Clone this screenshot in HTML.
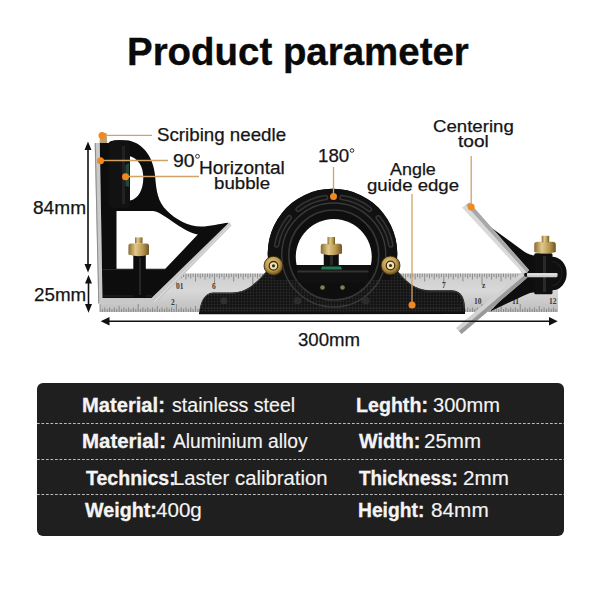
<!DOCTYPE html>
<html><head><meta charset="utf-8">
<style>
html,body{margin:0;padding:0;background:#fff;}
body{width:600px;height:600px;position:relative;overflow:hidden;font-family:"Liberation Sans",sans-serif;}
.t{position:absolute;white-space:pre;line-height:1;transform-origin:0 0;}
.box{position:absolute;left:36.5px;top:383px;width:527px;height:153px;background:#1f1f1f;border-radius:6px;overflow:hidden;}
.dash{position:absolute;left:0;width:527px;height:1px;background-image:linear-gradient(to right,#bdbdbd 0,#bdbdbd 3px,transparent 3px,transparent 4.5px);background-size:4.5px 1px;}
svg{position:absolute;left:0;top:0;}
</style></head><body>
<svg width="600" height="600" viewBox="0 0 600 600">
<defs>
<linearGradient id="rul" x1="0" y1="0" x2="0" y2="1">
<stop offset="0" stop-color="#cdcdcd"/><stop offset="0.45" stop-color="#d8d8d8"/><stop offset="1" stop-color="#bdbdbd"/>
</linearGradient>
<linearGradient id="brass" x1="0" y1="0" x2="1" y2="0">
<stop offset="0" stop-color="#8a6d32"/><stop offset="0.35" stop-color="#e0c98a"/><stop offset="0.7" stop-color="#b8974f"/><stop offset="1" stop-color="#6e5526"/>
</linearGradient>
<radialGradient id="bolt" cx="0.45" cy="0.4" r="0.6">
<stop offset="0" stop-color="#f1dc9c"/><stop offset="0.6" stop-color="#c09a48"/><stop offset="1" stop-color="#5e4718"/>
</radialGradient>
<linearGradient id="blade" x1="0" y1="0" x2="1" y2="0">
<stop offset="0" stop-color="#e8e8e8"/><stop offset="0.5" stop-color="#c8c8c8"/><stop offset="1" stop-color="#8f8f8f"/>
</linearGradient>
<pattern id="knurl" width="3" height="3" patternUnits="userSpaceOnUse">
<rect width="3" height="3" fill="#121212"/><circle cx="1.5" cy="1.5" r="0.9" fill="#2c2c2c"/>
</pattern>
</defs>

<!-- ruler -->
<rect x="100" y="273.5" width="458" height="38.5" fill="url(#rul)"/>
<g id="ticks" stroke="#777" stroke-width="0.75">
<line x1="100.00" y1="273.5" x2="100.00" y2="284.50"/>
<line x1="100.00" y1="312" x2="100.00" y2="304.00"/>
<line x1="102.39" y1="273.5" x2="102.39" y2="277.00"/>
<line x1="102.39" y1="312" x2="102.39" y2="309.00"/>
<line x1="104.78" y1="273.5" x2="104.78" y2="278.50"/>
<line x1="104.78" y1="312" x2="104.78" y2="307.50"/>
<line x1="107.16" y1="273.5" x2="107.16" y2="277.00"/>
<line x1="107.16" y1="312" x2="107.16" y2="309.00"/>
<line x1="109.55" y1="273.5" x2="109.55" y2="279.50"/>
<line x1="109.55" y1="312" x2="109.55" y2="307.50"/>
<line x1="111.94" y1="273.5" x2="111.94" y2="277.00"/>
<line x1="111.94" y1="312" x2="111.94" y2="309.00"/>
<line x1="114.33" y1="273.5" x2="114.33" y2="278.50"/>
<line x1="114.33" y1="312" x2="114.33" y2="307.50"/>
<line x1="116.71" y1="273.5" x2="116.71" y2="277.00"/>
<line x1="116.71" y1="312" x2="116.71" y2="309.00"/>
<line x1="119.10" y1="273.5" x2="119.10" y2="281.50"/>
<line x1="119.10" y1="312" x2="119.10" y2="306.00"/>
<line x1="121.49" y1="273.5" x2="121.49" y2="277.00"/>
<line x1="121.49" y1="312" x2="121.49" y2="309.00"/>
<line x1="123.88" y1="273.5" x2="123.88" y2="278.50"/>
<line x1="123.88" y1="312" x2="123.88" y2="307.50"/>
<line x1="126.26" y1="273.5" x2="126.26" y2="277.00"/>
<line x1="126.26" y1="312" x2="126.26" y2="309.00"/>
<line x1="128.65" y1="273.5" x2="128.65" y2="279.50"/>
<line x1="128.65" y1="312" x2="128.65" y2="307.50"/>
<line x1="131.04" y1="273.5" x2="131.04" y2="277.00"/>
<line x1="131.04" y1="312" x2="131.04" y2="309.00"/>
<line x1="133.43" y1="273.5" x2="133.43" y2="278.50"/>
<line x1="133.43" y1="312" x2="133.43" y2="307.50"/>
<line x1="135.81" y1="273.5" x2="135.81" y2="277.00"/>
<line x1="135.81" y1="312" x2="135.81" y2="309.00"/>
<line x1="138.20" y1="273.5" x2="138.20" y2="284.50"/>
<line x1="138.20" y1="312" x2="138.20" y2="304.00"/>
<line x1="140.59" y1="273.5" x2="140.59" y2="277.00"/>
<line x1="140.59" y1="312" x2="140.59" y2="309.00"/>
<line x1="142.97" y1="273.5" x2="142.97" y2="278.50"/>
<line x1="142.97" y1="312" x2="142.97" y2="307.50"/>
<line x1="145.36" y1="273.5" x2="145.36" y2="277.00"/>
<line x1="145.36" y1="312" x2="145.36" y2="309.00"/>
<line x1="147.75" y1="273.5" x2="147.75" y2="279.50"/>
<line x1="147.75" y1="312" x2="147.75" y2="307.50"/>
<line x1="150.14" y1="273.5" x2="150.14" y2="277.00"/>
<line x1="150.14" y1="312" x2="150.14" y2="309.00"/>
<line x1="152.53" y1="273.5" x2="152.53" y2="278.50"/>
<line x1="152.53" y1="312" x2="152.53" y2="307.50"/>
<line x1="154.91" y1="273.5" x2="154.91" y2="277.00"/>
<line x1="154.91" y1="312" x2="154.91" y2="309.00"/>
<line x1="157.30" y1="273.5" x2="157.30" y2="281.50"/>
<line x1="157.30" y1="312" x2="157.30" y2="306.00"/>
<line x1="159.69" y1="273.5" x2="159.69" y2="277.00"/>
<line x1="159.69" y1="312" x2="159.69" y2="309.00"/>
<line x1="162.07" y1="273.5" x2="162.07" y2="278.50"/>
<line x1="162.07" y1="312" x2="162.07" y2="307.50"/>
<line x1="164.46" y1="273.5" x2="164.46" y2="277.00"/>
<line x1="164.46" y1="312" x2="164.46" y2="309.00"/>
<line x1="166.85" y1="273.5" x2="166.85" y2="279.50"/>
<line x1="166.85" y1="312" x2="166.85" y2="307.50"/>
<line x1="169.24" y1="273.5" x2="169.24" y2="277.00"/>
<line x1="169.24" y1="312" x2="169.24" y2="309.00"/>
<line x1="171.62" y1="273.5" x2="171.62" y2="278.50"/>
<line x1="171.62" y1="312" x2="171.62" y2="307.50"/>
<line x1="174.01" y1="273.5" x2="174.01" y2="277.00"/>
<line x1="174.01" y1="312" x2="174.01" y2="309.00"/>
<line x1="176.40" y1="273.5" x2="176.40" y2="284.50"/>
<line x1="176.40" y1="312" x2="176.40" y2="304.00"/>
<line x1="178.79" y1="273.5" x2="178.79" y2="277.00"/>
<line x1="178.79" y1="312" x2="178.79" y2="309.00"/>
<line x1="181.18" y1="273.5" x2="181.18" y2="278.50"/>
<line x1="181.18" y1="312" x2="181.18" y2="307.50"/>
<line x1="183.56" y1="273.5" x2="183.56" y2="277.00"/>
<line x1="183.56" y1="312" x2="183.56" y2="309.00"/>
<line x1="185.95" y1="273.5" x2="185.95" y2="279.50"/>
<line x1="185.95" y1="312" x2="185.95" y2="307.50"/>
<line x1="188.34" y1="273.5" x2="188.34" y2="277.00"/>
<line x1="188.34" y1="312" x2="188.34" y2="309.00"/>
<line x1="190.73" y1="273.5" x2="190.73" y2="278.50"/>
<line x1="190.73" y1="312" x2="190.73" y2="307.50"/>
<line x1="193.11" y1="273.5" x2="193.11" y2="277.00"/>
<line x1="193.11" y1="312" x2="193.11" y2="309.00"/>
<line x1="195.50" y1="273.5" x2="195.50" y2="281.50"/>
<line x1="195.50" y1="312" x2="195.50" y2="306.00"/>
<line x1="197.89" y1="273.5" x2="197.89" y2="277.00"/>
<line x1="197.89" y1="312" x2="197.89" y2="309.00"/>
<line x1="200.28" y1="273.5" x2="200.28" y2="278.50"/>
<line x1="200.28" y1="312" x2="200.28" y2="307.50"/>
<line x1="202.66" y1="273.5" x2="202.66" y2="277.00"/>
<line x1="202.66" y1="312" x2="202.66" y2="309.00"/>
<line x1="205.05" y1="273.5" x2="205.05" y2="279.50"/>
<line x1="205.05" y1="312" x2="205.05" y2="307.50"/>
<line x1="207.44" y1="273.5" x2="207.44" y2="277.00"/>
<line x1="207.44" y1="312" x2="207.44" y2="309.00"/>
<line x1="209.82" y1="273.5" x2="209.82" y2="278.50"/>
<line x1="209.82" y1="312" x2="209.82" y2="307.50"/>
<line x1="212.21" y1="273.5" x2="212.21" y2="277.00"/>
<line x1="212.21" y1="312" x2="212.21" y2="309.00"/>
<line x1="214.60" y1="273.5" x2="214.60" y2="284.50"/>
<line x1="214.60" y1="312" x2="214.60" y2="304.00"/>
<line x1="216.99" y1="273.5" x2="216.99" y2="277.00"/>
<line x1="216.99" y1="312" x2="216.99" y2="309.00"/>
<line x1="219.38" y1="273.5" x2="219.38" y2="278.50"/>
<line x1="219.38" y1="312" x2="219.38" y2="307.50"/>
<line x1="221.76" y1="273.5" x2="221.76" y2="277.00"/>
<line x1="221.76" y1="312" x2="221.76" y2="309.00"/>
<line x1="224.15" y1="273.5" x2="224.15" y2="279.50"/>
<line x1="224.15" y1="312" x2="224.15" y2="307.50"/>
<line x1="226.54" y1="273.5" x2="226.54" y2="277.00"/>
<line x1="226.54" y1="312" x2="226.54" y2="309.00"/>
<line x1="228.93" y1="273.5" x2="228.93" y2="278.50"/>
<line x1="228.93" y1="312" x2="228.93" y2="307.50"/>
<line x1="231.31" y1="273.5" x2="231.31" y2="277.00"/>
<line x1="231.31" y1="312" x2="231.31" y2="309.00"/>
<line x1="233.70" y1="273.5" x2="233.70" y2="281.50"/>
<line x1="233.70" y1="312" x2="233.70" y2="306.00"/>
<line x1="236.09" y1="273.5" x2="236.09" y2="277.00"/>
<line x1="236.09" y1="312" x2="236.09" y2="309.00"/>
<line x1="238.48" y1="273.5" x2="238.48" y2="278.50"/>
<line x1="238.48" y1="312" x2="238.48" y2="307.50"/>
<line x1="240.86" y1="273.5" x2="240.86" y2="277.00"/>
<line x1="240.86" y1="312" x2="240.86" y2="309.00"/>
<line x1="243.25" y1="273.5" x2="243.25" y2="279.50"/>
<line x1="243.25" y1="312" x2="243.25" y2="307.50"/>
<line x1="245.64" y1="273.5" x2="245.64" y2="277.00"/>
<line x1="245.64" y1="312" x2="245.64" y2="309.00"/>
<line x1="248.03" y1="273.5" x2="248.03" y2="278.50"/>
<line x1="248.03" y1="312" x2="248.03" y2="307.50"/>
<line x1="250.41" y1="273.5" x2="250.41" y2="277.00"/>
<line x1="250.41" y1="312" x2="250.41" y2="309.00"/>
<line x1="252.80" y1="273.5" x2="252.80" y2="284.50"/>
<line x1="252.80" y1="312" x2="252.80" y2="304.00"/>
<line x1="255.19" y1="273.5" x2="255.19" y2="277.00"/>
<line x1="255.19" y1="312" x2="255.19" y2="309.00"/>
<line x1="257.58" y1="273.5" x2="257.58" y2="278.50"/>
<line x1="257.58" y1="312" x2="257.58" y2="307.50"/>
<line x1="259.96" y1="273.5" x2="259.96" y2="277.00"/>
<line x1="259.96" y1="312" x2="259.96" y2="309.00"/>
<line x1="262.35" y1="273.5" x2="262.35" y2="279.50"/>
<line x1="262.35" y1="312" x2="262.35" y2="307.50"/>
<line x1="264.74" y1="273.5" x2="264.74" y2="277.00"/>
<line x1="264.74" y1="312" x2="264.74" y2="309.00"/>
<line x1="267.12" y1="273.5" x2="267.12" y2="278.50"/>
<line x1="267.12" y1="312" x2="267.12" y2="307.50"/>
<line x1="269.51" y1="273.5" x2="269.51" y2="277.00"/>
<line x1="269.51" y1="312" x2="269.51" y2="309.00"/>
<line x1="271.90" y1="273.5" x2="271.90" y2="281.50"/>
<line x1="271.90" y1="312" x2="271.90" y2="306.00"/>
<line x1="274.29" y1="273.5" x2="274.29" y2="277.00"/>
<line x1="274.29" y1="312" x2="274.29" y2="309.00"/>
<line x1="276.68" y1="273.5" x2="276.68" y2="278.50"/>
<line x1="276.68" y1="312" x2="276.68" y2="307.50"/>
<line x1="279.06" y1="273.5" x2="279.06" y2="277.00"/>
<line x1="279.06" y1="312" x2="279.06" y2="309.00"/>
<line x1="281.45" y1="273.5" x2="281.45" y2="279.50"/>
<line x1="281.45" y1="312" x2="281.45" y2="307.50"/>
<line x1="283.84" y1="273.5" x2="283.84" y2="277.00"/>
<line x1="283.84" y1="312" x2="283.84" y2="309.00"/>
<line x1="286.23" y1="273.5" x2="286.23" y2="278.50"/>
<line x1="286.23" y1="312" x2="286.23" y2="307.50"/>
<line x1="288.61" y1="273.5" x2="288.61" y2="277.00"/>
<line x1="288.61" y1="312" x2="288.61" y2="309.00"/>
<line x1="291.00" y1="273.5" x2="291.00" y2="284.50"/>
<line x1="291.00" y1="312" x2="291.00" y2="304.00"/>
<line x1="293.39" y1="273.5" x2="293.39" y2="277.00"/>
<line x1="293.39" y1="312" x2="293.39" y2="309.00"/>
<line x1="295.77" y1="273.5" x2="295.77" y2="278.50"/>
<line x1="295.77" y1="312" x2="295.77" y2="307.50"/>
<line x1="298.16" y1="273.5" x2="298.16" y2="277.00"/>
<line x1="298.16" y1="312" x2="298.16" y2="309.00"/>
<line x1="300.55" y1="273.5" x2="300.55" y2="279.50"/>
<line x1="300.55" y1="312" x2="300.55" y2="307.50"/>
<line x1="302.94" y1="273.5" x2="302.94" y2="277.00"/>
<line x1="302.94" y1="312" x2="302.94" y2="309.00"/>
<line x1="305.33" y1="273.5" x2="305.33" y2="278.50"/>
<line x1="305.33" y1="312" x2="305.33" y2="307.50"/>
<line x1="307.71" y1="273.5" x2="307.71" y2="277.00"/>
<line x1="307.71" y1="312" x2="307.71" y2="309.00"/>
<line x1="310.10" y1="273.5" x2="310.10" y2="281.50"/>
<line x1="310.10" y1="312" x2="310.10" y2="306.00"/>
<line x1="312.49" y1="273.5" x2="312.49" y2="277.00"/>
<line x1="312.49" y1="312" x2="312.49" y2="309.00"/>
<line x1="314.88" y1="273.5" x2="314.88" y2="278.50"/>
<line x1="314.88" y1="312" x2="314.88" y2="307.50"/>
<line x1="317.26" y1="273.5" x2="317.26" y2="277.00"/>
<line x1="317.26" y1="312" x2="317.26" y2="309.00"/>
<line x1="319.65" y1="273.5" x2="319.65" y2="279.50"/>
<line x1="319.65" y1="312" x2="319.65" y2="307.50"/>
<line x1="322.04" y1="273.5" x2="322.04" y2="277.00"/>
<line x1="322.04" y1="312" x2="322.04" y2="309.00"/>
<line x1="324.43" y1="273.5" x2="324.43" y2="278.50"/>
<line x1="324.43" y1="312" x2="324.43" y2="307.50"/>
<line x1="326.81" y1="273.5" x2="326.81" y2="277.00"/>
<line x1="326.81" y1="312" x2="326.81" y2="309.00"/>
<line x1="329.20" y1="273.5" x2="329.20" y2="284.50"/>
<line x1="329.20" y1="312" x2="329.20" y2="304.00"/>
<line x1="331.59" y1="273.5" x2="331.59" y2="277.00"/>
<line x1="331.59" y1="312" x2="331.59" y2="309.00"/>
<line x1="333.98" y1="273.5" x2="333.98" y2="278.50"/>
<line x1="333.98" y1="312" x2="333.98" y2="307.50"/>
<line x1="336.36" y1="273.5" x2="336.36" y2="277.00"/>
<line x1="336.36" y1="312" x2="336.36" y2="309.00"/>
<line x1="338.75" y1="273.5" x2="338.75" y2="279.50"/>
<line x1="338.75" y1="312" x2="338.75" y2="307.50"/>
<line x1="341.14" y1="273.5" x2="341.14" y2="277.00"/>
<line x1="341.14" y1="312" x2="341.14" y2="309.00"/>
<line x1="343.52" y1="273.5" x2="343.52" y2="278.50"/>
<line x1="343.52" y1="312" x2="343.52" y2="307.50"/>
<line x1="345.91" y1="273.5" x2="345.91" y2="277.00"/>
<line x1="345.91" y1="312" x2="345.91" y2="309.00"/>
<line x1="348.30" y1="273.5" x2="348.30" y2="281.50"/>
<line x1="348.30" y1="312" x2="348.30" y2="306.00"/>
<line x1="350.69" y1="273.5" x2="350.69" y2="277.00"/>
<line x1="350.69" y1="312" x2="350.69" y2="309.00"/>
<line x1="353.08" y1="273.5" x2="353.08" y2="278.50"/>
<line x1="353.08" y1="312" x2="353.08" y2="307.50"/>
<line x1="355.46" y1="273.5" x2="355.46" y2="277.00"/>
<line x1="355.46" y1="312" x2="355.46" y2="309.00"/>
<line x1="357.85" y1="273.5" x2="357.85" y2="279.50"/>
<line x1="357.85" y1="312" x2="357.85" y2="307.50"/>
<line x1="360.24" y1="273.5" x2="360.24" y2="277.00"/>
<line x1="360.24" y1="312" x2="360.24" y2="309.00"/>
<line x1="362.62" y1="273.5" x2="362.62" y2="278.50"/>
<line x1="362.62" y1="312" x2="362.62" y2="307.50"/>
<line x1="365.01" y1="273.5" x2="365.01" y2="277.00"/>
<line x1="365.01" y1="312" x2="365.01" y2="309.00"/>
<line x1="367.40" y1="273.5" x2="367.40" y2="284.50"/>
<line x1="367.40" y1="312" x2="367.40" y2="304.00"/>
<line x1="369.79" y1="273.5" x2="369.79" y2="277.00"/>
<line x1="369.79" y1="312" x2="369.79" y2="309.00"/>
<line x1="372.18" y1="273.5" x2="372.18" y2="278.50"/>
<line x1="372.18" y1="312" x2="372.18" y2="307.50"/>
<line x1="374.56" y1="273.5" x2="374.56" y2="277.00"/>
<line x1="374.56" y1="312" x2="374.56" y2="309.00"/>
<line x1="376.95" y1="273.5" x2="376.95" y2="279.50"/>
<line x1="376.95" y1="312" x2="376.95" y2="307.50"/>
<line x1="379.34" y1="273.5" x2="379.34" y2="277.00"/>
<line x1="379.34" y1="312" x2="379.34" y2="309.00"/>
<line x1="381.73" y1="273.5" x2="381.73" y2="278.50"/>
<line x1="381.73" y1="312" x2="381.73" y2="307.50"/>
<line x1="384.11" y1="273.5" x2="384.11" y2="277.00"/>
<line x1="384.11" y1="312" x2="384.11" y2="309.00"/>
<line x1="386.50" y1="273.5" x2="386.50" y2="281.50"/>
<line x1="386.50" y1="312" x2="386.50" y2="306.00"/>
<line x1="388.89" y1="273.5" x2="388.89" y2="277.00"/>
<line x1="388.89" y1="312" x2="388.89" y2="309.00"/>
<line x1="391.28" y1="273.5" x2="391.28" y2="278.50"/>
<line x1="391.28" y1="312" x2="391.28" y2="307.50"/>
<line x1="393.66" y1="273.5" x2="393.66" y2="277.00"/>
<line x1="393.66" y1="312" x2="393.66" y2="309.00"/>
<line x1="396.05" y1="273.5" x2="396.05" y2="279.50"/>
<line x1="396.05" y1="312" x2="396.05" y2="307.50"/>
<line x1="398.44" y1="273.5" x2="398.44" y2="277.00"/>
<line x1="398.44" y1="312" x2="398.44" y2="309.00"/>
<line x1="400.83" y1="273.5" x2="400.83" y2="278.50"/>
<line x1="400.83" y1="312" x2="400.83" y2="307.50"/>
<line x1="403.21" y1="273.5" x2="403.21" y2="277.00"/>
<line x1="403.21" y1="312" x2="403.21" y2="309.00"/>
<line x1="405.60" y1="273.5" x2="405.60" y2="284.50"/>
<line x1="405.60" y1="312" x2="405.60" y2="304.00"/>
<line x1="407.99" y1="273.5" x2="407.99" y2="277.00"/>
<line x1="407.99" y1="312" x2="407.99" y2="309.00"/>
<line x1="410.38" y1="273.5" x2="410.38" y2="278.50"/>
<line x1="410.38" y1="312" x2="410.38" y2="307.50"/>
<line x1="412.76" y1="273.5" x2="412.76" y2="277.00"/>
<line x1="412.76" y1="312" x2="412.76" y2="309.00"/>
<line x1="415.15" y1="273.5" x2="415.15" y2="279.50"/>
<line x1="415.15" y1="312" x2="415.15" y2="307.50"/>
<line x1="417.54" y1="273.5" x2="417.54" y2="277.00"/>
<line x1="417.54" y1="312" x2="417.54" y2="309.00"/>
<line x1="419.93" y1="273.5" x2="419.93" y2="278.50"/>
<line x1="419.93" y1="312" x2="419.93" y2="307.50"/>
<line x1="422.31" y1="273.5" x2="422.31" y2="277.00"/>
<line x1="422.31" y1="312" x2="422.31" y2="309.00"/>
<line x1="424.70" y1="273.5" x2="424.70" y2="281.50"/>
<line x1="424.70" y1="312" x2="424.70" y2="306.00"/>
<line x1="427.09" y1="273.5" x2="427.09" y2="277.00"/>
<line x1="427.09" y1="312" x2="427.09" y2="309.00"/>
<line x1="429.48" y1="273.5" x2="429.48" y2="278.50"/>
<line x1="429.48" y1="312" x2="429.48" y2="307.50"/>
<line x1="431.86" y1="273.5" x2="431.86" y2="277.00"/>
<line x1="431.86" y1="312" x2="431.86" y2="309.00"/>
<line x1="434.25" y1="273.5" x2="434.25" y2="279.50"/>
<line x1="434.25" y1="312" x2="434.25" y2="307.50"/>
<line x1="436.64" y1="273.5" x2="436.64" y2="277.00"/>
<line x1="436.64" y1="312" x2="436.64" y2="309.00"/>
<line x1="439.03" y1="273.5" x2="439.03" y2="278.50"/>
<line x1="439.03" y1="312" x2="439.03" y2="307.50"/>
<line x1="441.41" y1="273.5" x2="441.41" y2="277.00"/>
<line x1="441.41" y1="312" x2="441.41" y2="309.00"/>
<line x1="443.80" y1="273.5" x2="443.80" y2="284.50"/>
<line x1="443.80" y1="312" x2="443.80" y2="304.00"/>
<line x1="446.19" y1="273.5" x2="446.19" y2="277.00"/>
<line x1="446.19" y1="312" x2="446.19" y2="309.00"/>
<line x1="448.58" y1="273.5" x2="448.58" y2="278.50"/>
<line x1="448.58" y1="312" x2="448.58" y2="307.50"/>
<line x1="450.96" y1="273.5" x2="450.96" y2="277.00"/>
<line x1="450.96" y1="312" x2="450.96" y2="309.00"/>
<line x1="453.35" y1="273.5" x2="453.35" y2="279.50"/>
<line x1="453.35" y1="312" x2="453.35" y2="307.50"/>
<line x1="455.74" y1="273.5" x2="455.74" y2="277.00"/>
<line x1="455.74" y1="312" x2="455.74" y2="309.00"/>
<line x1="458.12" y1="273.5" x2="458.12" y2="278.50"/>
<line x1="458.12" y1="312" x2="458.12" y2="307.50"/>
<line x1="460.51" y1="273.5" x2="460.51" y2="277.00"/>
<line x1="460.51" y1="312" x2="460.51" y2="309.00"/>
<line x1="462.90" y1="273.5" x2="462.90" y2="281.50"/>
<line x1="462.90" y1="312" x2="462.90" y2="306.00"/>
<line x1="465.29" y1="273.5" x2="465.29" y2="277.00"/>
<line x1="465.29" y1="312" x2="465.29" y2="309.00"/>
<line x1="467.68" y1="273.5" x2="467.68" y2="278.50"/>
<line x1="467.68" y1="312" x2="467.68" y2="307.50"/>
<line x1="470.06" y1="273.5" x2="470.06" y2="277.00"/>
<line x1="470.06" y1="312" x2="470.06" y2="309.00"/>
<line x1="472.45" y1="273.5" x2="472.45" y2="279.50"/>
<line x1="472.45" y1="312" x2="472.45" y2="307.50"/>
<line x1="474.84" y1="273.5" x2="474.84" y2="277.00"/>
<line x1="474.84" y1="312" x2="474.84" y2="309.00"/>
<line x1="477.23" y1="273.5" x2="477.23" y2="278.50"/>
<line x1="477.23" y1="312" x2="477.23" y2="307.50"/>
<line x1="479.61" y1="273.5" x2="479.61" y2="277.00"/>
<line x1="479.61" y1="312" x2="479.61" y2="309.00"/>
<line x1="482.00" y1="273.5" x2="482.00" y2="284.50"/>
<line x1="482.00" y1="312" x2="482.00" y2="304.00"/>
<line x1="484.39" y1="273.5" x2="484.39" y2="277.00"/>
<line x1="484.39" y1="312" x2="484.39" y2="309.00"/>
<line x1="486.78" y1="273.5" x2="486.78" y2="278.50"/>
<line x1="486.78" y1="312" x2="486.78" y2="307.50"/>
<line x1="489.16" y1="273.5" x2="489.16" y2="277.00"/>
<line x1="489.16" y1="312" x2="489.16" y2="309.00"/>
<line x1="491.55" y1="273.5" x2="491.55" y2="279.50"/>
<line x1="491.55" y1="312" x2="491.55" y2="307.50"/>
<line x1="493.94" y1="273.5" x2="493.94" y2="277.00"/>
<line x1="493.94" y1="312" x2="493.94" y2="309.00"/>
<line x1="496.33" y1="273.5" x2="496.33" y2="278.50"/>
<line x1="496.33" y1="312" x2="496.33" y2="307.50"/>
<line x1="498.71" y1="273.5" x2="498.71" y2="277.00"/>
<line x1="498.71" y1="312" x2="498.71" y2="309.00"/>
<line x1="501.10" y1="273.5" x2="501.10" y2="281.50"/>
<line x1="501.10" y1="312" x2="501.10" y2="306.00"/>
<line x1="503.49" y1="273.5" x2="503.49" y2="277.00"/>
<line x1="503.49" y1="312" x2="503.49" y2="309.00"/>
<line x1="505.88" y1="273.5" x2="505.88" y2="278.50"/>
<line x1="505.88" y1="312" x2="505.88" y2="307.50"/>
<line x1="508.26" y1="273.5" x2="508.26" y2="277.00"/>
<line x1="508.26" y1="312" x2="508.26" y2="309.00"/>
<line x1="510.65" y1="273.5" x2="510.65" y2="279.50"/>
<line x1="510.65" y1="312" x2="510.65" y2="307.50"/>
<line x1="513.04" y1="273.5" x2="513.04" y2="277.00"/>
<line x1="513.04" y1="312" x2="513.04" y2="309.00"/>
<line x1="515.42" y1="273.5" x2="515.42" y2="278.50"/>
<line x1="515.42" y1="312" x2="515.42" y2="307.50"/>
<line x1="517.81" y1="273.5" x2="517.81" y2="277.00"/>
<line x1="517.81" y1="312" x2="517.81" y2="309.00"/>
<line x1="520.20" y1="273.5" x2="520.20" y2="284.50"/>
<line x1="520.20" y1="312" x2="520.20" y2="304.00"/>
<line x1="522.59" y1="273.5" x2="522.59" y2="277.00"/>
<line x1="522.59" y1="312" x2="522.59" y2="309.00"/>
<line x1="524.98" y1="273.5" x2="524.98" y2="278.50"/>
<line x1="524.98" y1="312" x2="524.98" y2="307.50"/>
<line x1="527.36" y1="273.5" x2="527.36" y2="277.00"/>
<line x1="527.36" y1="312" x2="527.36" y2="309.00"/>
<line x1="529.75" y1="273.5" x2="529.75" y2="279.50"/>
<line x1="529.75" y1="312" x2="529.75" y2="307.50"/>
<line x1="532.14" y1="273.5" x2="532.14" y2="277.00"/>
<line x1="532.14" y1="312" x2="532.14" y2="309.00"/>
<line x1="534.53" y1="273.5" x2="534.53" y2="278.50"/>
<line x1="534.53" y1="312" x2="534.53" y2="307.50"/>
<line x1="536.91" y1="273.5" x2="536.91" y2="277.00"/>
<line x1="536.91" y1="312" x2="536.91" y2="309.00"/>
<line x1="539.30" y1="273.5" x2="539.30" y2="281.50"/>
<line x1="539.30" y1="312" x2="539.30" y2="306.00"/>
<line x1="541.69" y1="273.5" x2="541.69" y2="277.00"/>
<line x1="541.69" y1="312" x2="541.69" y2="309.00"/>
<line x1="544.08" y1="273.5" x2="544.08" y2="278.50"/>
<line x1="544.08" y1="312" x2="544.08" y2="307.50"/>
<line x1="546.46" y1="273.5" x2="546.46" y2="277.00"/>
<line x1="546.46" y1="312" x2="546.46" y2="309.00"/>
<line x1="548.85" y1="273.5" x2="548.85" y2="279.50"/>
<line x1="548.85" y1="312" x2="548.85" y2="307.50"/>
<line x1="551.24" y1="273.5" x2="551.24" y2="277.00"/>
<line x1="551.24" y1="312" x2="551.24" y2="309.00"/>
<line x1="553.62" y1="273.5" x2="553.62" y2="278.50"/>
<line x1="553.62" y1="312" x2="553.62" y2="307.50"/>
<line x1="556.01" y1="273.5" x2="556.01" y2="277.00"/>
<line x1="556.01" y1="312" x2="556.01" y2="309.00"/>
</g>
<g font-family="Liberation Serif" font-size="7.5" font-weight="700" fill="#3a3a3a">
<text x="212" y="289">6</text>
<text x="474" y="304">10</text>
<text x="512" y="304">11</text>
<text x="549" y="304">12</text>
<text x="442" y="288">7</text>
<text x="482" y="288">z</text>
<text x="176" y="289">01</text>
<text x="171" y="305">2</text>
</g>

<!-- square head silver -->
<polygon points="94.7,143 99.8,143 102.5,298 151.5,298 226.5,223 229.5,222.8 231.5,225.5 155.5,303.5 98.3,303.5" fill="#c9c9c9"/>
<polygon points="94.7,143 95.8,143 99.3,303.5 98.3,303.5" fill="#8e8e8e"/>
<line x1="154" y1="302" x2="230" y2="225" stroke="#e2e2e2" stroke-width="1"/>
<!-- square head black -->
<path fill="#0d0d0d" fill-rule="evenodd" d="
M102.5,298 L99.8,143 L108.7,143 Q109.5,140.3 118,140.3 L126,140.3
C141,141.5 153,155 155,175 C156.5,192 157.5,201 167,210.8 C175,219 188,226.6 201,226.6 C210,226.6 220,223.5 228.5,222.8
L226.5,225 L151.5,298 Z
M128.7,155.7 C138,158 143.3,166 143.3,178 C143.3,190 138,199 130,200.6 L128.7,200.6 Z
M116.5,211 L153,211 C160,212 167,218 176,224 C184,229.5 192,233.5 197.8,234.6 L165.3,268.8 L116.5,268.8 Z"/>
<!-- cylinder -->
<path d="M108.7,146 Q109,140.3 118,140.3 L122,140.3 Q130,141 130,148 L130,203 Q130,208.2 124,208.2 L114,208.2 Q108.7,208 108.7,203 Z" fill="#121212"/>
<rect x="122" y="146" width="3" height="58" fill="#222"/>
<path d="M125.5,165 L129,163 L129,187 L125.5,186 Z" fill="#1e4a38"/>
<line x1="102.5" y1="269.6" x2="165" y2="269.6" stroke="#2c2c2c" stroke-width="1"/>
<line x1="103" y1="296" x2="152" y2="296" stroke="#262626" stroke-width="1"/>
<!-- scribing needle -->
<polygon points="100.5,133.5 106.5,133 107.3,143 99.5,143" fill="#b9a077"/>
<!-- square brass knob -->
<rect x="133.3" y="255" width="12.5" height="42" fill="#0d0d0d"/>
<rect x="139" y="258" width="2" height="37" fill="#262626"/>
<path d="M128.4,246 Q128.4,243.5 131,243.5 L146.5,243.5 Q149,243.5 149,246 L149,254.5 Q139,258 128.4,254.5 Z" fill="url(#brass)"/>
<rect x="135" y="237.4" width="7.5" height="6" fill="url(#brass)"/>

<!-- protractor head -->
<path fill="url(#knurl)" d="M199,314.2 C200,303 204,293 213,292.5 L232,292.5 C247,292.3 256,283 269.34,268
A64.8,64.8 0 1 1 395.66,268 C404,280 415,290.3 430,290.3 L452,290.3 C462,290.3 465,300 465,308 L465,314 Z"/>
<path fill="#111" d="M269.34,268 A64.8,64.8 0 1 1 395.66,268 L390,280 L276,280 Z"/>
<line x1="203" y1="308.5" x2="462" y2="308.5" stroke="#262626" stroke-width="1"/>
<path d="M200.5,309 C201.5,301 205,293.8 213,293.3 L232,293.3 C247,293.1 256,284 268.5,270" fill="none" stroke="#3a3a3a" stroke-width="1"/>
<path d="M396.5,270 C404,281 415,291.1 430,291.1 L452,291.1 C461,291.1 464,300 464.2,308" fill="none" stroke="#3a3a3a" stroke-width="1"/>
<line x1="199" y1="313.3" x2="465" y2="313.3" stroke="#0c0c0c" stroke-width="1.6"/>
<circle cx="333.75" cy="255.0" r="52" fill="none" stroke="#3a3a3a" stroke-width="1.4"/>
<circle cx="333.75" cy="255.0" r="45" fill="#0e0e0e" stroke="#363636" stroke-width="1.6"/>
<!-- slots -->
<g stroke="#353535" stroke-width="5.5" stroke-linecap="round" fill="none">
<path d="M298.04,209.30 A58,58 0 0 1 325.68,197.56"/>
<path d="M341.82,197.56 A58,58 0 0 1 369.46,209.30"/>
<path d="M276.63,244.93 A58,58 0 0 1 289.32,217.72"/>
<path d="M378.18,217.72 A58,58 0 0 1 390.87,244.93"/>
</g>
<g stroke="#141414" stroke-width="2.5" stroke-linecap="round" fill="none">
<path d="M298.04,209.30 A58,58 0 0 1 325.68,197.56"/>
<path d="M341.82,197.56 A58,58 0 0 1 369.46,209.30"/>
<path d="M276.63,244.93 A58,58 0 0 1 289.32,217.72"/>
<path d="M378.18,217.72 A58,58 0 0 1 390.87,244.93"/>
</g>
<!-- hole -->
<path fill="#ffffff" d="M296.60,265 A38,38 0 1 1 370.90,265 Z"/>
<!-- knob -->
<rect x="323.75" y="254" width="15" height="13" fill="#0e0e0e"/>
<rect x="330" y="256" width="3" height="10" fill="#2a2a2a"/>
<path d="M320.75,246 Q320.75,243.75 323,243.75 L339.75,243.75 Q342,243.75 342,246 L342,253.5 Q331.4,257 320.75,253.5 Z" fill="url(#brass)"/>
<rect x="327.5" y="237" width="7.5" height="7.5" fill="url(#brass)"/>
<!-- bar -->
<rect x="297.5" y="265" width="71" height="17.5" rx="1.5" fill="#111"/>
<rect x="297.5" y="270.5" width="71" height="2" fill="#333"/>
<path d="M322,266.5 L341,266.5 L342,269.5 L321,269.5 Z" fill="#1d7a52"/>
<circle cx="322.5" cy="287.5" r="2.3" fill="#8a7a55"/>
<circle cx="342.5" cy="287.5" r="2.3" fill="#8a7a55"/>
<circle cx="297.5" cy="300.8" r="3.8" fill="#2c2c2c"/>
<circle cx="365.8" cy="300.8" r="3.8" fill="#2c2c2c"/>
<circle cx="224" cy="300.8" r="3.5" fill="#303030"/>
<!-- bolts -->
<circle cx="273.5" cy="265.8" r="9.5" fill="url(#bolt)" stroke="#2a2210" stroke-width="0.8"/>
<circle cx="273.5" cy="265.8" r="4.3" fill="#efe2b5" stroke="#3a2e12" stroke-width="1.3"/><circle cx="273.5" cy="265.8" r="1.6" fill="#3a2e12"/>
<circle cx="390.5" cy="265.5" r="9.5" fill="url(#bolt)" stroke="#2a2210" stroke-width="0.8"/>
<circle cx="390.5" cy="265.5" r="4.3" fill="#efe2b5" stroke="#3a2e12" stroke-width="1.3"/><circle cx="390.5" cy="265.5" r="1.6" fill="#3a2e12"/>

<!-- centering tool -->
<ellipse cx="552" cy="273.5" rx="14.7" ry="16.8" fill="#0f0f0f"/>
<ellipse cx="552" cy="273.5" rx="10" ry="12" fill="none" stroke="#222" stroke-width="1"/>
<path fill="#0e0e0e" d="M489,226 L524,251.5 Q530,255.5 536,255.5 L536,292 Q530,292 524,295.5 L490,311.5 L524,275 Z"/>
<rect x="534.2" y="253.3" width="18.3" height="41" rx="1.5" fill="#101010"/>
<rect x="543" y="256" width="3" height="36" fill="#2a2a2a"/>
<polygon points="462,207.5 469.5,202.5 529,270 525,275.5" fill="#d9d9d9"/>
<polygon points="466,205 469.5,202.5 529,270 527,272.8" fill="#a8a8a8"/>
<polygon points="522,272 527.5,277.5 461.5,334 456,328" fill="#d2d2d2"/>
<polygon points="525,274.8 527.5,277.5 461.5,334 459,331" fill="#9a9a9a"/>
<circle cx="526" cy="274.8" r="2" fill="#111"/>
<rect x="527" y="273.3" width="30.5" height="4" rx="1.5" fill="#cfcfcf"/>
<rect x="527" y="273.3" width="30.5" height="1.3" fill="#ededed"/>
<path d="M534.2,244.5 Q534.2,241.7 537.5,241.7 L552.5,241.7 Q555.8,241.7 555.8,244.5 L555.8,252 Q545,255 534.2,252 Z" fill="url(#brass)"/>
<rect x="541.7" y="235.8" width="7.5" height="6.5" fill="url(#brass)"/>

<!-- dimension arrows -->
<g stroke="#111" stroke-width="1.6" fill="#111">
<line x1="88" y1="146" x2="88" y2="268"/>
<path d="M88,141.5 L84.5,150 L91.5,150 Z" stroke="none"/>
<path d="M88,272.5 L84.5,264 L91.5,264 Z" stroke="none"/>
<line x1="88.5" y1="280" x2="88.5" y2="308"/>
<path d="M88.5,275 L85,283.5 L92,283.5 Z" stroke="none"/>
<path d="M88.5,312.7 L85,304 L92,304 Z" stroke="none"/>
<line x1="106" y1="321.3" x2="552" y2="321.3"/>
<path d="M100.7,321.3 L109.5,317 L109.5,325.6 Z" stroke="none"/>
<path d="M557.7,321.3 L549,317 L549,325.6 Z" stroke="none"/>
</g>

<!-- annotation lines -->
<g stroke="#cfa265" stroke-width="1.3">
<line x1="102" y1="135.3" x2="152" y2="135.3"/>
<line x1="100.5" y1="160.5" x2="168" y2="160.5"/>
<line x1="125.5" y1="176.5" x2="199" y2="176.5"/>
<line x1="333.5" y1="167" x2="333.5" y2="196.5"/>
<line x1="412" y1="194" x2="412" y2="305"/>
<line x1="471.2" y1="156" x2="471.2" y2="207"/>
</g>
<g fill="#f0891e">
<circle cx="102" cy="135.5" r="3.5"/>
<circle cx="100.5" cy="160.8" r="3.5"/>
<circle cx="125.5" cy="176.7" r="3.5"/>
<circle cx="333.5" cy="196.5" r="3.5"/>
<circle cx="412" cy="305" r="3.5"/>
<circle cx="471.2" cy="207" r="3.5"/>
</g>
<!-- degree signs -->
<circle cx="197.5" cy="156.3" r="1.9" fill="none" stroke="#1a1a1a" stroke-width="0.9"/>
<circle cx="352" cy="150.5" r="1.8" fill="none" stroke="#1a1a1a" stroke-width="0.9"/>
</svg>

<div class="box">
<div class="dash" style="top:39.5px"></div>
<div class="dash" style="top:75.5px"></div>
<div class="dash" style="top:111px"></div>
</div>
<div class="t" style="left:126.51px;top:32px;font-size:39.40px;font-weight:700;color:#0a0a0a;transform:scaleX(0.9758);-webkit-text-stroke:0.35px #0a0a0a;">Product parameter</div>
<div class="t" style="left:157.36px;top:126px;font-size:18.60px;font-weight:400;color:#151515;transform:scaleX(1.0073);-webkit-text-stroke:0.25px #151515;">Scribing needle</div>
<div class="t" style="left:172.53px;top:152px;font-size:18.40px;font-weight:400;color:#151515;transform:scaleX(1.0550);-webkit-text-stroke:0.25px #151515;">90</div>
<div class="t" style="left:199.38px;top:159px;font-size:18.00px;font-weight:400;color:#151515;transform:scaleX(1.0589);-webkit-text-stroke:0.25px #151515;">Horizontal</div>
<div class="t" style="left:214.19px;top:175px;font-size:17.30px;font-weight:400;color:#151515;transform:scaleX(1.0801);-webkit-text-stroke:0.25px #151515;">bubble</div>
<div class="t" style="left:318.00px;top:148px;font-size:17.90px;font-weight:400;color:#151515;transform:scaleX(1.0452);-webkit-text-stroke:0.25px #151515;">180</div>
<div class="t" style="left:390.00px;top:161px;font-size:17.40px;font-weight:400;color:#151515;transform:scaleX(1.0304);-webkit-text-stroke:0.25px #151515;">Angle</div>
<div class="t" style="left:366.56px;top:177px;font-size:17.40px;font-weight:400;color:#151515;transform:scaleX(1.0690);-webkit-text-stroke:0.25px #151515;">guide edge</div>
<div class="t" style="left:433.07px;top:119px;font-size:16.80px;font-weight:400;color:#151515;transform:scaleX(1.1108);-webkit-text-stroke:0.25px #151515;">Centering</div>
<div class="t" style="left:458.37px;top:134px;font-size:16.60px;font-weight:400;color:#151515;transform:scaleX(1.1517);-webkit-text-stroke:0.25px #151515;">tool</div>
<div class="t" style="left:32.74px;top:198px;font-size:19.20px;font-weight:400;color:#151515;transform:scaleX(0.9949);-webkit-text-stroke:0.25px #151515;">84mm</div>
<div class="t" style="left:33.56px;top:285px;font-size:19.20px;font-weight:400;color:#151515;transform:scaleX(0.9790);-webkit-text-stroke:0.25px #151515;">25mm</div>
<div class="t" style="left:298.36px;top:330px;font-size:19.00px;font-weight:400;color:#151515;transform:scaleX(0.9793);-webkit-text-stroke:0.25px #151515;">300mm</div>
<div class="t" style="left:82.29px;top:396px;font-size:19.40px;font-weight:700;color:#f4f4f4;transform:scaleX(1.0388);-webkit-text-stroke:0.3px #f4f4f4;">Material:</div>
<div class="t" style="left:171.91px;top:396px;font-size:19.40px;font-weight:400;color:#f4f4f4;transform:scaleX(1.0113);-webkit-text-stroke:0.15px #f4f4f4;">stainless steel</div>
<div class="t" style="left:82.27px;top:432px;font-size:19.40px;font-weight:700;color:#f4f4f4;transform:scaleX(1.0544);-webkit-text-stroke:0.3px #f4f4f4;">Material:</div>
<div class="t" style="left:172.60px;top:432px;font-size:19.40px;font-weight:400;color:#f4f4f4;transform:scaleX(0.9912);-webkit-text-stroke:0.15px #f4f4f4;">Aluminium alloy</div>
<div class="t" style="left:85.55px;top:469px;font-size:19.40px;font-weight:700;color:#f4f4f4;transform:scaleX(1.0074);-webkit-text-stroke:0.3px #f4f4f4;">Technics:</div>
<div class="t" style="left:173.28px;top:469px;font-size:19.40px;font-weight:400;color:#f4f4f4;transform:scaleX(1.0461);-webkit-text-stroke:0.15px #f4f4f4;">Laster calibration</div>
<div class="t" style="left:85.00px;top:501px;font-size:19.40px;font-weight:700;color:#f4f4f4;transform:scaleX(1.0164);-webkit-text-stroke:0.3px #f4f4f4;">Weight:</div>
<div class="t" style="left:155.99px;top:501px;font-size:19.40px;font-weight:400;color:#f4f4f4;transform:scaleX(1.0622);-webkit-text-stroke:0.15px #f4f4f4;">400g</div>
<div class="t" style="left:355.93px;top:396px;font-size:19.40px;font-weight:700;color:#f4f4f4;transform:scaleX(1.0118);-webkit-text-stroke:0.3px #f4f4f4;">Leghth:</div>
<div class="t" style="left:432.80px;top:396px;font-size:19.40px;font-weight:400;color:#f4f4f4;transform:scaleX(1.0341);-webkit-text-stroke:0.15px #f4f4f4;">300mm</div>
<div class="t" style="left:358.60px;top:432px;font-size:19.40px;font-weight:700;color:#f4f4f4;transform:scaleX(1.0206);-webkit-text-stroke:0.3px #f4f4f4;">Width:</div>
<div class="t" style="left:423.87px;top:432px;font-size:19.40px;font-weight:400;color:#f4f4f4;transform:scaleX(1.0581);-webkit-text-stroke:0.15px #f4f4f4;">25mm</div>
<div class="t" style="left:358.51px;top:469px;font-size:19.40px;font-weight:700;color:#f4f4f4;transform:scaleX(0.9745);-webkit-text-stroke:0.3px #f4f4f4;">Thickness:</div>
<div class="t" style="left:462.87px;top:469px;font-size:19.40px;font-weight:400;color:#f4f4f4;transform:scaleX(1.0627);-webkit-text-stroke:0.15px #f4f4f4;">2mm</div>
<div class="t" style="left:357.95px;top:501px;font-size:19.40px;font-weight:700;color:#f4f4f4;transform:scaleX(0.9932);-webkit-text-stroke:0.3px #f4f4f4;">Height:</div>
<div class="t" style="left:430.67px;top:501px;font-size:19.40px;font-weight:400;color:#f4f4f4;transform:scaleX(1.0715);-webkit-text-stroke:0.15px #f4f4f4;">84mm</div>
</body></html>
